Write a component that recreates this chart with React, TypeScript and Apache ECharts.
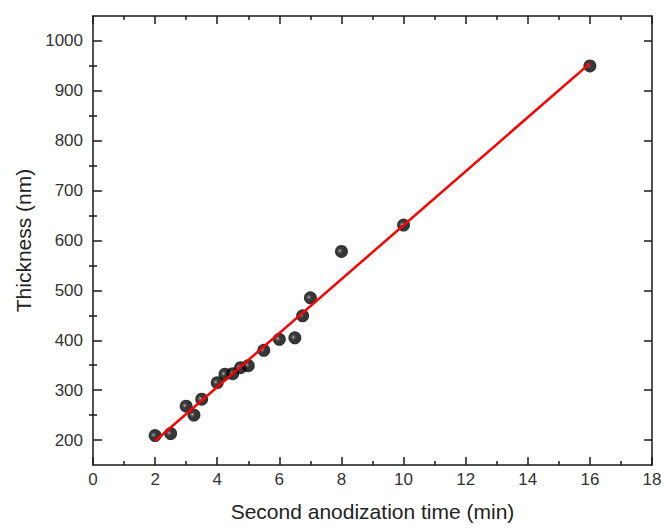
import React, { useEffect, useRef } from "react";
import * as echarts from "echarts";

const timeMin = [2, 2.5, 3, 3.25, 3.5, 4, 4.25, 4.5, 4.75, 5, 5.5, 6, 6.5, 6.75, 7, 8, 10, 16];
const thicknessNm = [209, 213, 268, 250, 282, 315, 332, 333, 345, 349, 380, 402, 405, 449, 485, 578, 631, 950];
const fitX = [2, 16];
const fitY = [198, 955];
const yMajorTicks = [200, 300, 400, 500, 600, 700, 800, 900, 1000];
const yMinorTicks = [250, 350, 450, 550, 650, 750, 850, 950];

const FONT = "'Liberation Sans', Arial, sans-serif";
const AX = "#1a1a1a";

export default function App() {
  const ref = useRef<HTMLDivElement>(null);
  useEffect(() => {
    if (!ref.current) return;
    const chart = echarts.init(ref.current, undefined, { renderer: "svg" });
    const ball = new echarts.graphic.RadialGradient(0.38, 0.45, 0.7, [
      { offset: 0, color: "#bbbbbb" },
      { offset: 0.12, color: "#444" },
      { offset: 0.32, color: "#050505" },
      { offset: 1, color: "#000" },
    ]);
    const yBase = { type: "value", min: 150, max: 1050, splitLine: { show: false } };
    const xBase = { type: "value", min: 0, max: 18, interval: 2, splitLine: { show: false } };
    chart.setOption({
      animation: false,
      backgroundColor: "#fff",
      grid: { left: 93, right: 14, top: 16, bottom: 67, containLabel: false },
      xAxis: [
        {
          ...xBase,
          position: "bottom",
          name: "Second anodization time (min)",
          nameLocation: "middle",
          nameGap: 36,
          nameTextStyle: { fontFamily: FONT, fontSize: 21, color: "#222" },
          axisLine: { show: true, onZero: false, lineStyle: { color: AX, width: 1.5 } },
          axisTick: { show: true, inside: true, length: 8, lineStyle: { color: AX, width: 1.5 } },
          minorTick: { show: true, splitNumber: 2, length: 4, lineStyle: { color: AX, width: 1.5 } },
          axisLabel: { fontFamily: FONT, fontSize: 17, color: "#333", margin: 6, formatter: (v: number) => String(v) },
        },
        {
          ...xBase,
          position: "top",
          axisLine: { show: true, onZero: false, lineStyle: { color: AX, width: 1.5 } },
          axisTick: { show: true, inside: true, length: 8, lineStyle: { color: AX, width: 1.5 } },
          minorTick: { show: true, splitNumber: 2, length: 4, lineStyle: { color: AX, width: 1.5 } },
          axisLabel: { show: false },
        },
      ],
      yAxis: [
        {
          ...yBase,
          position: "left",
          name: "Thickness (nm)",
          nameLocation: "middle",
          nameGap: 57,
          nameTextStyle: { fontFamily: FONT, fontSize: 21, color: "#222" },
          axisLine: { show: true, onZero: false, lineStyle: { color: AX, width: 1.5 } },
          axisTick: { show: true, inside: true, length: 9, customValues: yMajorTicks, lineStyle: { color: AX, width: 1.5 } },
          axisLabel: { fontFamily: FONT, fontSize: 17, color: "#333", margin: 10, customValues: yMajorTicks, formatter: (v: number) => String(v) },
        },
        {
          ...yBase,
          position: "left",
          axisLine: { show: false },
          axisTick: { show: true, inside: true, length: 4, customValues: yMinorTicks, lineStyle: { color: AX, width: 1.5 } },
          axisLabel: { show: false },
        },
        {
          ...yBase,
          position: "right",
          axisLine: { show: true, onZero: false, lineStyle: { color: AX, width: 1.5 } },
          axisTick: { show: true, inside: true, length: 8, customValues: yMajorTicks, lineStyle: { color: AX, width: 1.5 } },
          axisLabel: { show: false },
        },
        {
          ...yBase,
          position: "right",
          axisLine: { show: false },
          axisTick: { show: true, inside: true, length: 4, customValues: yMinorTicks, lineStyle: { color: AX, width: 1.5 } },
          axisLabel: { show: false },
        },
      ],
      series: [
        {
          type: "scatter",
          xAxisIndex: 0,
          yAxisIndex: 0,
          data: timeMin.map((t, i) => [t, thicknessNm[i]]),
          symbol: "circle",
          symbolSize: 13,
          itemStyle: { color: ball },
          z: 2,
        },
        {
          type: "line",
          xAxisIndex: 0,
          yAxisIndex: 0,
          data: fitX.map((t, i) => [t, fitY[i]]),
          showSymbol: false,
          symbol: "none",
          lineStyle: { color: "#ff0000", width: 2.5 },
          z: 3,
        },
      ],
    });
    return () => chart.dispose();
  }, []);
  return (
    <div
      ref={ref}
      style={{ position: "absolute", left: 0, top: 0, width: 666, height: 532 }}
    />
  );
}
